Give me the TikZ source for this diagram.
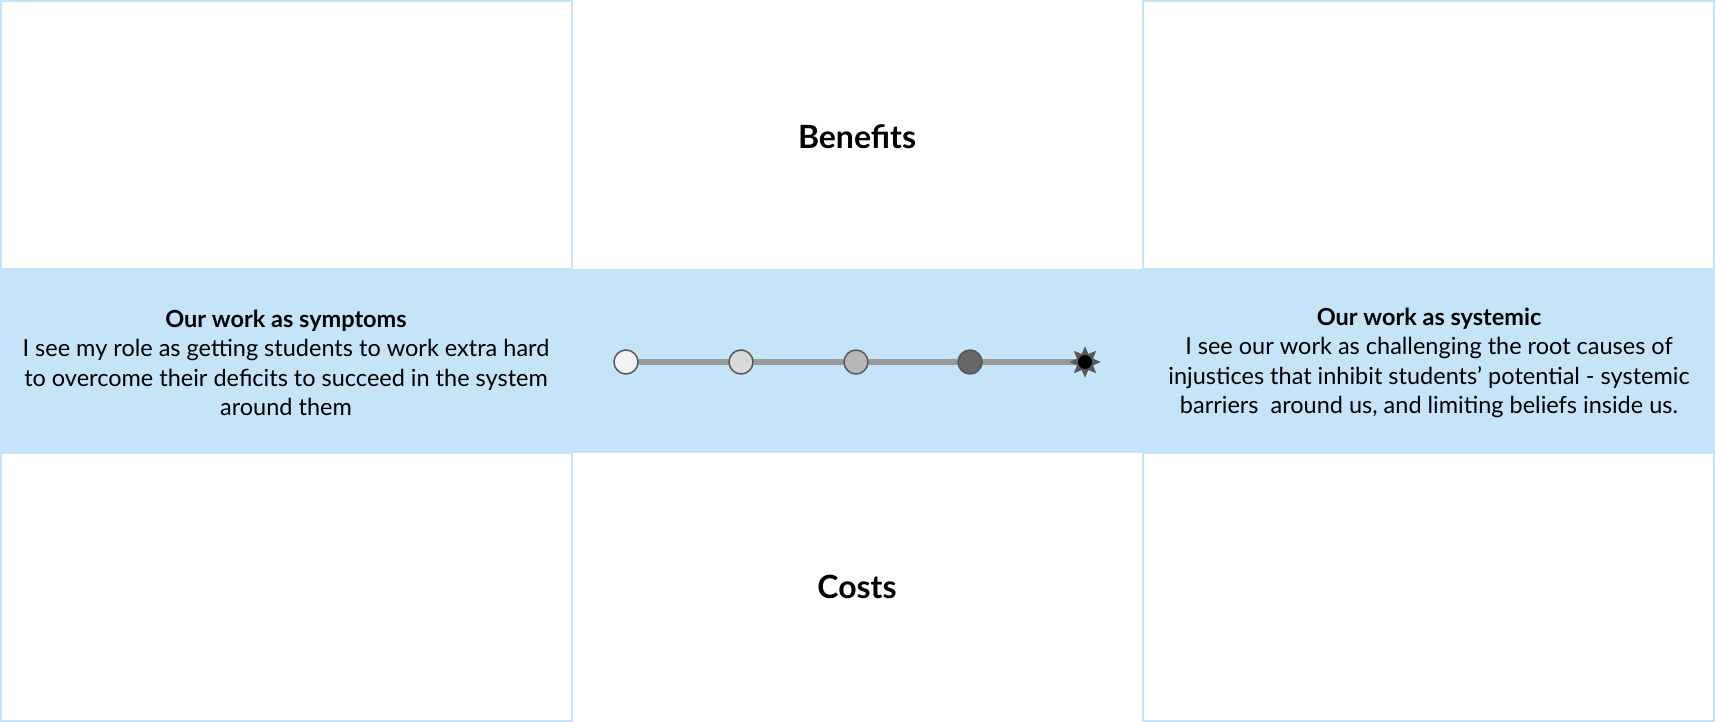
\documentclass[tikz,border=0pt]{standalone}
\usepackage{fontspec}
\setmainfont{Lato}
\usetikzlibrary{shapes.geometric}
\definecolor{bandblue}{HTML}{C5E4F7}
\definecolor{edgeblue}{HTML}{C5E4F7}
\definecolor{railgray}{HTML}{999999}
\definecolor{ringgray}{HTML}{595959}
\tikzset{
  cell/.style={draw=edgeblue, line width=2pt},
  title/.style={font=\bfseries\fontsize{32}{38}\selectfont, text=black},
  desc/.style={align=center, font=\fontsize{23.5}{29.5}\selectfont, text=black, inner sep=0pt},
  dot/.style={circle, draw=ringgray, line width=1.5pt, minimum size=24pt, inner sep=0pt},
  rail/.style={draw=railgray, line width=6pt},
}
\begin{document}
\begin{tikzpicture}[x=1pt, y=-1pt]
\useasboundingbox (0,0) rectangle (1715,722);
\fill[white] (0,0) rectangle (1715,722);
% band
\fill[bandblue] (0,269) rectangle (1715,453);
% cells
\draw[cell] (1,1) rectangle (572,269);
\draw[cell] (1143,1) rectangle (1714,269);
\draw[cell] (1,453) rectangle (572,721);
\draw[cell] (1143,453) rectangle (1714,721);
% titles
\node[title] (benefits) at (857,137) {Benefits};
\node[title] (costs) at (857,587) {Costs};
% descriptions
\node[desc] (left) at (286,363) {\textbf{Our work as symptoms}\\I see my role as getting students to work extra hard\\to overcome their deficits to succeed in the system\\around them};
\node[desc] (right) at (1429,363) {\textbf{Our work as systemic}\\I see our work as challenging the root causes of\\injustices that inhibit students’ potential - systemic\\barriers\ \ around us, and limiting beliefs inside us.};
% slider
\coordinate (s1) at (626,362);
\coordinate (s5) at (1085,362);
\draw[rail] (s1) -- (s5);
\node[dot, fill={rgb,255:red,242;green,242;blue,242}] (d1) at (626,362) {};
\node[dot, fill={rgb,255:red,217;green,217;blue,217}] (d2) at (741,362) {};
\node[dot, fill={rgb,255:red,183;green,183;blue,183}] (d3) at (856,362) {};
\node[dot, fill={rgb,255:red,102;green,102;blue,102}] (d4) at (970,362) {};
\node[star, star points=8, star point ratio=1.8, minimum size=30pt, inner sep=0pt, fill=ringgray, draw=ringgray, line width=0.5pt] (d5) at (1085,362) {};
\node[circle, fill=black, minimum size=14pt, inner sep=0pt] (d5c) at (d5.center) {};
\end{tikzpicture}
\end{document}
